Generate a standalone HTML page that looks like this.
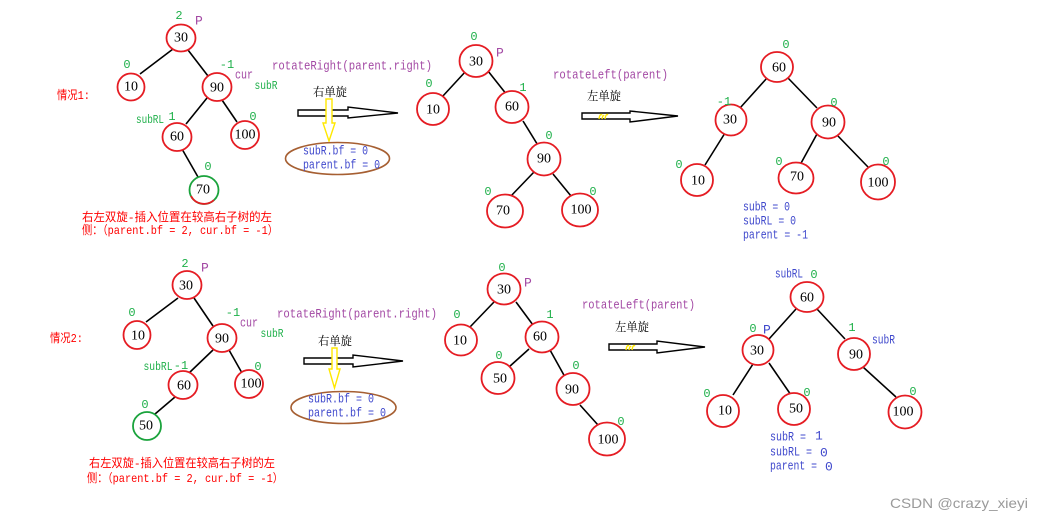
<!DOCTYPE html>
<html><head><meta charset="utf-8"><style>
html,body{margin:0;padding:0;background:#fff;}
svg{display:block;}
.n{fill:#fff;stroke:#e51c23;stroke-width:1.8;}
.g{fill:#fff;stroke:#1aa33c;stroke-width:1.8;}
.l{stroke:#000;stroke-width:1.6;}
.t{font-family:"Liberation Serif",serif;font-size:14px;fill:#000;text-anchor:middle;dominant-baseline:central;}
.b{font-family:"Liberation Mono",monospace;font-size:12px;fill:#1fb04a;text-anchor:middle;dominant-baseline:central;}
.p{font-family:"Liberation Mono",monospace;font-size:13px;fill:#a349a4;dominant-baseline:central;}
.bl{font-family:"Liberation Mono",monospace;font-size:13px;fill:#3f48cc;dominant-baseline:central;}
.r{font-family:"Liberation Mono","Noto Sans CJK SC",monospace;font-size:12px;fill:#f00;dominant-baseline:central;}
.k{font-family:"Liberation Serif","Noto Serif CJK SC",serif;font-size:12px;fill:#000;dominant-baseline:central;}
</style></head><body>
<svg width="1043" height="523" viewBox="0 0 1043 523" xmlns="http://www.w3.org/2000/svg">
<rect width="1043" height="523" fill="#fff"/>

<!-- ===== Case 1 left tree ===== -->
<g>
<line class="l" x1="173" y1="49" x2="140" y2="74"/>
<line class="l" x1="188" y1="50" x2="208" y2="76"/>
<line class="l" x1="207" y1="98" x2="186" y2="124"/>
<line class="l" x1="222" y1="100" x2="237" y2="122"/>
<line class="l" x1="182" y1="149" x2="198" y2="177"/>
<ellipse class="n" cx="181" cy="38" rx="14.5" ry="13.5"/><text class="t" x="181" y="38">30</text>
<ellipse class="n" cx="131" cy="87" rx="13.5" ry="13.5"/><text class="t" x="131" y="87">10</text>
<ellipse class="n" cx="217" cy="87" rx="14.5" ry="14"/><text class="t" x="217" y="88">90</text>
<ellipse class="n" cx="177" cy="137" rx="14.5" ry="14"/><text class="t" x="177" y="137">60</text>
<ellipse class="n" cx="245" cy="135" rx="14" ry="14"/><text class="t" x="245" y="135">100</text>
<ellipse class="g" cx="204" cy="190" rx="14.5" ry="14"/>
<path d="M191,196 A14.5,14 0 0 0 214,200" fill="none" stroke="#e51c23" stroke-width="1.8"/>
<text class="t" x="203" y="190">70</text>
<text class="b" x="179" y="16">2</text>
<text class="p" x="195" y="21">P</text>
<text class="b" x="127" y="65">0</text>
<text class="b" x="227" y="65">-1</text>
<text class="p" x="235" y="75" textLength="18" lengthAdjust="spacingAndGlyphs">cur</text>
<text class="b" x="266" y="86" textLength="23" lengthAdjust="spacingAndGlyphs">subR</text>
<text class="b" x="150" y="120" textLength="28" lengthAdjust="spacingAndGlyphs">subRL</text>
<text class="b" x="172" y="117">1</text>
<text class="b" x="253" y="117">0</text>
<text class="b" x="208" y="167">0</text>
</g>
<text class="r" x="57" y="96" textLength="33" lengthAdjust="spacingAndGlyphs">情况1:</text>
<text class="r" x="82" y="218" textLength="190" lengthAdjust="spacingAndGlyphs">右左双旋-插入位置在较高右子树的左</text>
<text class="r" x="82" y="231" textLength="196" lengthAdjust="spacingAndGlyphs">侧：（parent.bf = 2, cur.bf = -1）</text>

<!-- ===== Case 1 rotateRight ===== -->
<text class="p" x="272" y="66" textLength="160" lengthAdjust="spacingAndGlyphs">rotateRight(parent.right)</text>
<text class="k" x="313" y="92" textLength="34" lengthAdjust="spacingAndGlyphs">右单旋</text>
<polygon points="298,110 348,110 348,107 398,113 348,118 348,116 298,116" fill="#fff" stroke="#000" stroke-width="1.4"/>
<polygon points="326,99 332,99 332,123 335,123 329,141 323,123 326,123" fill="#fff" stroke="#ffe800" stroke-width="1.4"/>
<ellipse cx="337.5" cy="158.5" rx="52" ry="16" fill="none" stroke="#a65f32" stroke-width="1.6"/>
<text class="bl" x="303" y="151" textLength="65" lengthAdjust="spacingAndGlyphs">subR.bf = 0</text>
<text class="bl" x="303" y="165" textLength="77" lengthAdjust="spacingAndGlyphs">parent.bf = 0</text>

<!-- ===== Case 1 middle tree ===== -->
<g>
<line class="l" x1="466" y1="71" x2="442" y2="97"/>
<line class="l" x1="488" y1="71" x2="507" y2="95"/>
<line class="l" x1="523" y1="121" x2="539" y2="147"/>
<line class="l" x1="534" y1="172" x2="510" y2="197"/>
<line class="l" x1="553" y1="174" x2="571" y2="196"/>
<ellipse class="n" cx="476" cy="61" rx="16.5" ry="16"/><text class="t" x="476" y="62">30</text>
<ellipse class="n" cx="433" cy="109" rx="16" ry="16"/><text class="t" x="433" y="110">10</text>
<ellipse class="n" cx="512" cy="107" rx="16.5" ry="16"/><text class="t" x="512" y="107">60</text>
<ellipse class="n" cx="544" cy="159" rx="16.5" ry="16.5"/><text class="t" x="544" y="159">90</text>
<ellipse class="n" cx="505" cy="211" rx="18" ry="16.5"/><text class="t" x="503" y="211">70</text>
<ellipse class="n" cx="580" cy="210" rx="18" ry="16.5"/><text class="t" x="581" y="210">100</text>
<text class="b" x="474" y="37">0</text>
<text class="p" x="496" y="53">P</text>
<text class="b" x="429" y="84">0</text>
<text class="b" x="523" y="88">1</text>
<text class="b" x="549" y="136">0</text>
<text class="b" x="488" y="192">0</text>
<text class="b" x="593" y="192">0</text>
</g>

<!-- ===== Case 1 rotateLeft ===== -->
<text class="p" x="553" y="75" textLength="115" lengthAdjust="spacingAndGlyphs">rotateLeft(parent)</text>
<text class="k" x="587" y="96" textLength="34" lengthAdjust="spacingAndGlyphs">左单旋</text>
<polygon points="582,113 630,113 630,111 678,116 630,122 630,119 582,119" fill="#fff" stroke="#000" stroke-width="1.4"/>
<path d="M599,119 q1,-6 3,-4 M602,119 q1,-5 2,-3 M605,119 q1,-6 3,-4" fill="none" stroke="#ffe800" stroke-width="1.4"/>

<!-- ===== Case 1 right tree ===== -->
<g>
<line class="l" x1="767" y1="78" x2="740" y2="108"/>
<line class="l" x1="788" y1="78" x2="817" y2="108"/>
<line class="l" x1="725" y1="133" x2="705" y2="165"/>
<line class="l" x1="817" y1="134" x2="800" y2="165"/>
<line class="l" x1="837" y1="135" x2="868" y2="167"/>
<ellipse class="n" cx="777" cy="67" rx="16" ry="15"/><text class="t" x="779" y="68">60</text>
<ellipse class="n" cx="731" cy="120" rx="15.5" ry="15.5"/><text class="t" x="730" y="120">30</text>
<ellipse class="n" cx="828" cy="122" rx="16.5" ry="16.5"/><text class="t" x="829" y="123">90</text>
<ellipse class="n" cx="697" cy="180" rx="16" ry="16"/><text class="t" x="698" y="181">10</text>
<ellipse class="n" cx="796" cy="178" rx="17.5" ry="15.5"/><text class="t" x="797" y="177">70</text>
<ellipse class="n" cx="878" cy="182" rx="17" ry="17.5"/><text class="t" x="878" y="183">100</text>
<text class="b" x="786" y="45">0</text>
<text class="b" x="724" y="102">-1</text>
<text class="b" x="834" y="103">0</text>
<text class="b" x="679" y="165">0</text>
<text class="b" x="779" y="162">0</text>
<text class="b" x="886" y="162">0</text>
</g>
<text class="bl" x="743" y="207" textLength="47" lengthAdjust="spacingAndGlyphs">subR = 0</text>
<text class="bl" x="743" y="221" textLength="53" lengthAdjust="spacingAndGlyphs">subRL = 0</text>
<text class="bl" x="743" y="235" textLength="65" lengthAdjust="spacingAndGlyphs">parent = -1</text>

<!-- ===== Case 2 left tree ===== -->
<g>
<line class="l" x1="178" y1="298" x2="146" y2="322"/>
<line class="l" x1="194" y1="298" x2="213" y2="326"/>
<line class="l" x1="213" y1="350" x2="189" y2="373"/>
<line class="l" x1="229" y1="350" x2="242" y2="373"/>
<line class="l" x1="175" y1="397" x2="155" y2="414"/>
<ellipse class="n" cx="187" cy="285" rx="14.5" ry="14"/><text class="t" x="186" y="286">30</text>
<ellipse class="n" cx="137" cy="335" rx="13.5" ry="14"/><text class="t" x="138" y="336">10</text>
<ellipse class="n" cx="222" cy="338" rx="14.5" ry="14"/><text class="t" x="222" y="339">90</text>
<ellipse class="n" cx="183" cy="385" rx="14.5" ry="14"/><text class="t" x="184" y="386">60</text>
<ellipse class="n" cx="249" cy="384" rx="14" ry="14"/><text class="t" x="251" y="384">100</text>
<ellipse class="g" cx="147" cy="426" rx="14" ry="14"/><text class="t" x="146" y="426">50</text>
<text class="b" x="185" y="264">2</text>
<text class="p" x="201" y="268">P</text>
<text class="b" x="132" y="313">0</text>
<text class="b" x="233" y="313">-1</text>
<text class="p" x="240" y="323" textLength="18" lengthAdjust="spacingAndGlyphs">cur</text>
<text class="b" x="272" y="334" textLength="23" lengthAdjust="spacingAndGlyphs">subR</text>
<text class="b" x="158" y="367" textLength="29" lengthAdjust="spacingAndGlyphs">subRL</text>
<text class="b" x="181" y="366">-1</text>
<text class="b" x="258" y="367">0</text>
<text class="b" x="145" y="405">0</text>
</g>
<text class="r" x="50" y="339" textLength="33" lengthAdjust="spacingAndGlyphs">情况2:</text>
<text class="r" x="89" y="464" textLength="186" lengthAdjust="spacingAndGlyphs">右左双旋-插入位置在较高右子树的左</text>
<text class="r" x="87" y="479" textLength="196" lengthAdjust="spacingAndGlyphs">侧：（parent.bf = 2, cur.bf = -1）</text>

<!-- ===== Case 2 rotateRight ===== -->
<text class="p" x="277" y="314" textLength="160" lengthAdjust="spacingAndGlyphs">rotateRight(parent.right)</text>
<text class="k" x="318" y="341" textLength="34" lengthAdjust="spacingAndGlyphs">右单旋</text>
<polygon points="304,358 353,358 353,355 403,361 353,367 353,364 304,364" fill="#fff" stroke="#000" stroke-width="1.4"/>
<polygon points="332,348 337,348 337,369 340,369 334.5,388 329,369 332,369" fill="#fff" stroke="#ffe800" stroke-width="1.4"/>
<ellipse cx="343.5" cy="407.5" rx="52.5" ry="16" fill="none" stroke="#a65f32" stroke-width="1.6"/>
<text class="bl" x="308" y="399" textLength="66" lengthAdjust="spacingAndGlyphs">subR.bf = 0</text>
<text class="bl" x="308" y="413" textLength="78" lengthAdjust="spacingAndGlyphs">parent.bf = 0</text>

<!-- ===== Case 2 middle tree ===== -->
<g>
<line class="l" x1="494" y1="302" x2="470" y2="327"/>
<line class="l" x1="516" y1="302" x2="533" y2="325"/>
<line class="l" x1="529" y1="349" x2="509" y2="367"/>
<line class="l" x1="550" y1="350" x2="565" y2="377"/>
<line class="l" x1="580" y1="405" x2="598" y2="425"/>
<ellipse class="n" cx="504" cy="289" rx="16.5" ry="15.5"/><text class="t" x="504" y="290">30</text>
<ellipse class="n" cx="461" cy="340" rx="16" ry="15.5"/><text class="t" x="460" y="341">10</text>
<ellipse class="n" cx="542" cy="337" rx="16.5" ry="15.5"/><text class="t" x="540" y="337">60</text>
<ellipse class="n" cx="498" cy="378" rx="16.5" ry="16"/><text class="t" x="500" y="379">50</text>
<ellipse class="n" cx="573" cy="389" rx="16.5" ry="16"/><text class="t" x="572" y="390">90</text>
<ellipse class="n" cx="607" cy="439" rx="18" ry="16.5"/><text class="t" x="608" y="440">100</text>
<text class="b" x="502" y="268">0</text>
<text class="p" x="524" y="283">P</text>
<text class="b" x="457" y="315">0</text>
<text class="b" x="550" y="315">1</text>
<text class="b" x="499" y="356">0</text>
<text class="b" x="576" y="366">0</text>
<text class="b" x="621" y="422">0</text>
</g>

<!-- ===== Case 2 rotateLeft ===== -->
<text class="p" x="582" y="305" textLength="113" lengthAdjust="spacingAndGlyphs">rotateLeft(parent)</text>
<text class="k" x="615" y="327" textLength="34" lengthAdjust="spacingAndGlyphs">左单旋</text>
<polygon points="609,344 657,344 657,341 705,347 657,353 657,350 609,350" fill="#fff" stroke="#000" stroke-width="1.4"/>
<path d="M626,350 q1,-6 3,-4 M629,350 q1,-5 2,-3 M632,350 q1,-6 3,-4" fill="none" stroke="#ffe800" stroke-width="1.4"/>

<!-- ===== Case 2 right tree ===== -->
<g>
<line class="l" x1="796" y1="309" x2="769" y2="339"/>
<line class="l" x1="817" y1="309" x2="845" y2="339"/>
<line class="l" x1="753" y1="364" x2="733" y2="395"/>
<line class="l" x1="769" y1="363" x2="791" y2="395"/>
<line class="l" x1="863" y1="367" x2="896" y2="397"/>
<ellipse class="n" cx="807" cy="297" rx="16.5" ry="15"/><text class="t" x="807" y="298">60</text>
<ellipse class="n" cx="758" cy="350" rx="15.5" ry="15"/><text class="t" x="757" y="351">30</text>
<ellipse class="n" cx="854" cy="354" rx="16" ry="16"/><text class="t" x="856" y="355">90</text>
<ellipse class="n" cx="723" cy="411" rx="16" ry="16"/><text class="t" x="725" y="411">10</text>
<ellipse class="n" cx="794" cy="409" rx="16" ry="16"/><text class="t" x="796" y="409">50</text>
<ellipse class="n" cx="905" cy="412" rx="16.5" ry="16.5"/><text class="t" x="903" y="412">100</text>
<text class="bl" x="775" y="274" textLength="28" lengthAdjust="spacingAndGlyphs">subRL</text>
<text class="b" x="814" y="275">0</text>
<text class="b" x="753" y="329">0</text>
<text class="bl" x="763" y="330">P</text>
<text class="b" x="852" y="328">1</text>
<text class="bl" x="872" y="340" textLength="23" lengthAdjust="spacingAndGlyphs">subR</text>
<text class="b" x="707" y="394">0</text>
<text class="b" x="807" y="393">0</text>
<text class="b" x="913" y="392">0</text>
</g>
<text class="bl" x="770" y="437" textLength="36" lengthAdjust="spacingAndGlyphs">subR =</text>
<text class="bl" x="815" y="436">1</text>
<text class="bl" x="770" y="452" textLength="42" lengthAdjust="spacingAndGlyphs">subRL =</text>
<text class="bl" x="820" y="453">0</text>
<text class="bl" x="770" y="466" textLength="47" lengthAdjust="spacingAndGlyphs">parent =</text>
<text class="bl" x="825" y="467">0</text>

<!-- watermark -->
<text x="890" y="503" font-family="'Liberation Sans',sans-serif" font-size="14" fill="#9a9a9a" dominant-baseline="central" textLength="138" lengthAdjust="spacingAndGlyphs">CSDN @crazy_xieyi</text>
</svg>
</body></html>
